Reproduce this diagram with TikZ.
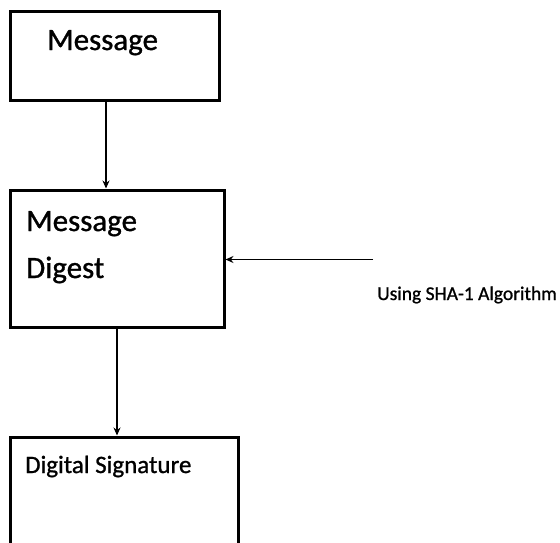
\documentclass[tikz,border=0pt]{standalone}
\usepackage{fontspec}
\setmainfont[BoldFont=Carlito, BoldFeatures={FakeBold=1.0}]{Carlito}
\usetikzlibrary{arrows.meta}

\tikzset{
  box/.style={draw, line width=3pt, inner sep=0pt},
  lbl/.style={inner sep=0pt, anchor=base west, align=left},
  arr/.style={-{Stealth[length=8pt,width=7pt]}, line width=1.3pt}
}

\begin{document}
\begin{tikzpicture}[x=1pt, y=-1pt]
    \useasboundingbox (0,0) rectangle (560,542);
    \begin{scope}
        \clip (0,0) rectangle (560,542);

        \node[box, minimum width=209pt, minimum height=89pt] (msg) at (114.5,55.5) {};
        \node[box, minimum width=214pt, minimum height=137pt] (digest) at (117,258.5) {};
        \node[box, minimum width=228pt, minimum height=163pt] (sig) at (124,518.5) {};

        \node[lbl, font=\fontsize{31}{37}\selectfont\bfseries] (msgtext) at (47,50) {Message};
        % base anchor sits on the last line
        \node[lbl, font=\fontsize{31}{47}\selectfont\bfseries] (digesttext) at (26,278) {Message\\Digest};
        \node[lbl, font=\fontsize{25}{30}\selectfont\bfseries] (sigtext) at (25,473) {Digital Signature};
        \node[lbl, font=\fontsize{19.5}{24}\selectfont\bfseries] (shatext) at (377,300) {Using SHA-1 Algorithm};

        \coordinate (shastart) at (373,259.5);
    \end{scope}

    \draw[arr] ([xshift=-8.5pt]msg.south) -- ([xshift=-8.5pt]msg.south |- digest.north);
    \draw[arr] (digest.south) -- (digest.south |- sig.north);
    \draw[arr] (shastart) -- (shastart -| digest.east);
\end{tikzpicture}
\end{document}
